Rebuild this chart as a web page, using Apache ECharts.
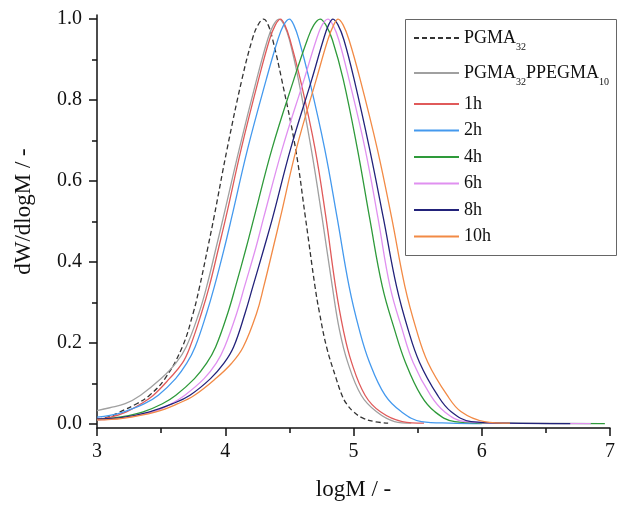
<!DOCTYPE html>
<html>
<head>
<meta charset="utf-8">
<script src="https://cdn.jsdelivr.net/npm/echarts@6/dist/echarts.min.js"></script>
<style>
  html, body { margin: 0; padding: 0; background: #fff; }
  #chart { width: 618px; height: 506px; }
</style>
</head>
<body>
<div id="chart"></div>
<script>
// [logM, dW/dlogM]
var pgma32 = [
  [3.00, 0.012], [3.10, 0.018], [3.18, 0.030], [3.31, 0.050], [3.41, 0.071], [3.53, 0.112],
  [3.665, 0.190], [3.75, 0.274], [3.80, 0.339], [3.865, 0.437], [3.912, 0.510], [4.015, 0.680],
  [4.13, 0.851], [4.21, 0.949], [4.255, 0.985], [4.30, 1.000], [4.335, 0.985], [4.37, 0.949],
  [4.44, 0.851], [4.548, 0.680], [4.625, 0.510], [4.70, 0.339], [4.735, 0.274], [4.79, 0.190],
  [4.865, 0.112], [4.91, 0.071], [4.945, 0.050], [5.00, 0.030], [5.07, 0.015], [5.16, 0.006],
  [5.27, 0.002]
];
var pgma32ppegma10 = [
  [3.00, 0.033], [3.10, 0.040], [3.22, 0.050], [3.34, 0.071], [3.50, 0.112], [3.615, 0.150],
  [3.695, 0.190], [3.795, 0.274], [3.855, 0.339], [3.93, 0.437], [3.985, 0.510], [4.11, 0.680],
  [4.245, 0.851], [4.33, 0.949], [4.375, 0.985], [4.42, 1.000], [4.46, 0.985], [4.50, 0.949],
  [4.57, 0.851], [4.67, 0.680], [4.755, 0.510], [4.835, 0.339], [4.89, 0.233], [4.955, 0.152],
  [5.06, 0.071], [5.18, 0.030], [5.32, 0.006], [5.45, 0.002]
];
var h1 = [
  [3.00, 0.012], [3.10, 0.016], [3.23, 0.030], [3.345, 0.050], [3.44, 0.071], [3.565, 0.112],
  [3.665, 0.150], [3.725, 0.190], [3.815, 0.274], [3.875, 0.339], [3.95, 0.437], [4.005, 0.510],
  [4.125, 0.680], [4.26, 0.851], [4.345, 0.949], [4.39, 0.985], [4.43, 1.000], [4.465, 0.985],
  [4.505, 0.949], [4.585, 0.851], [4.70, 0.680], [4.785, 0.510], [4.86, 0.339], [4.92, 0.233],
  [4.985, 0.152], [5.09, 0.071], [5.21, 0.030], [5.38, 0.006], [5.55, 0.002]
];
var h2 = [
  [3.00, 0.017], [3.10, 0.021], [3.21, 0.030], [3.37, 0.050], [3.478, 0.071], [3.613, 0.112],
  [3.70, 0.150], [3.765, 0.190], [3.855, 0.274], [3.915, 0.339], [3.995, 0.437], [4.05, 0.510],
  [4.175, 0.680], [4.32, 0.851], [4.41, 0.949], [4.455, 0.985], [4.50, 1.000], [4.535, 0.985],
  [4.575, 0.949], [4.655, 0.851], [4.775, 0.680], [4.872, 0.510], [4.966, 0.339], [5.045, 0.233],
  [5.125, 0.152], [5.246, 0.071], [5.374, 0.030], [5.53, 0.006], [5.75, 0.002], [6.00, 0.001]
];
var h4 = [
  [3.00, 0.010], [3.20, 0.018], [3.36, 0.030], [3.51, 0.050], [3.615, 0.071], [3.76, 0.112],
  [3.855, 0.150], [3.925, 0.190], [4.02, 0.274], [4.08, 0.339], [4.165, 0.437], [4.225, 0.510],
  [4.365, 0.680], [4.535, 0.851], [4.64, 0.949], [4.69, 0.985], [4.74, 1.000], [4.785, 0.985],
  [4.835, 0.949], [4.92, 0.851], [5.03, 0.680], [5.125, 0.510], [5.225, 0.339], [5.32, 0.233],
  [5.405, 0.152], [5.525, 0.071], [5.635, 0.030], [5.79, 0.006], [6.10, 0.002], [6.96, 0.001]
];
var h6 = [
  [3.00, 0.010], [3.20, 0.015], [3.44, 0.030], [3.58, 0.050], [3.685, 0.071], [3.835, 0.112],
  [3.93, 0.150], [3.995, 0.190], [4.09, 0.274], [4.15, 0.339], [4.24, 0.437], [4.30, 0.510],
  [4.445, 0.680], [4.615, 0.851], [4.71, 0.949], [4.755, 0.985], [4.80, 1.000], [4.84, 0.985],
  [4.885, 0.949], [4.965, 0.851], [5.09, 0.680], [5.19, 0.510], [5.285, 0.339], [5.38, 0.233],
  [5.465, 0.152], [5.60, 0.071], [5.71, 0.030], [5.866, 0.006], [6.20, 0.002], [6.85, 0.001]
];
var h8 = [
  [3.00, 0.012], [3.20, 0.016], [3.41, 0.030], [3.59, 0.050], [3.725, 0.071], [3.885, 0.112],
  [3.99, 0.150], [4.065, 0.190], [4.155, 0.274], [4.215, 0.339], [4.305, 0.437], [4.37, 0.510],
  [4.51, 0.680], [4.675, 0.851], [4.765, 0.949], [4.805, 0.985], [4.84, 1.000], [4.88, 0.985],
  [4.925, 0.949], [5.005, 0.851], [5.125, 0.680], [5.232, 0.510], [5.336, 0.339], [5.426, 0.233],
  [5.515, 0.152], [5.655, 0.071], [5.762, 0.030], [5.917, 0.006], [6.20, 0.002], [6.69, 0.001]
];
var h10 = [
  [3.00, 0.010], [3.20, 0.014], [3.46, 0.030], [3.63, 0.050], [3.76, 0.071], [3.925, 0.112],
  [4.05, 0.150], [4.14, 0.190], [4.245, 0.274], [4.30, 0.339], [4.375, 0.437], [4.43, 0.510],
  [4.555, 0.680], [4.71, 0.851], [4.80, 0.949], [4.845, 0.985], [4.88, 1.000], [4.92, 0.985],
  [4.965, 0.949], [5.052, 0.851], [5.185, 0.680], [5.297, 0.510], [5.401, 0.339], [5.49, 0.233],
  [5.58, 0.152], [5.73, 0.071], [5.84, 0.030], [6.02, 0.006], [6.22, 0.002]
];

var seriesNames = ['PGMA32', 'PGMA32PPEGMA10', '1h', '2h', '4h', '6h', '8h', '10h'];
var seriesData = [pgma32, pgma32ppegma10, h1, h2, h4, h6, h8, h10];
var colors = ['#333333', '#a0a0a0', '#e05a5a', '#4499ee', '#2e9a3a', '#e090f0', '#22227a', '#f28a45'];
var yTicks = [0, 0.2, 0.4, 0.6, 0.8, 1.0];
var yMinorTicks = [0.1, 0.3, 0.5, 0.7, 0.9];

var serif = "'Liberation Serif', 'Times New Roman', serif";

function initChart() {
  var series = [];
  for (var i = 0; i < seriesNames.length; i++) {
    series.push({
      name: seriesNames[i],
      type: 'line',
      data: seriesData[i],
      smooth: 0.4,
      symbol: 'none',
      color: colors[i],
      lineStyle: {
        color: colors[i],
        width: 1.3,
        type: i === 0 ? [5, 3] : 'solid'
      }
    });
  }

  var option = {
    animation: false,
    backgroundColor: '#fff',
    grid: {
      left: 97,
      right: 5,
      top: 15,
      bottom: 73
    },
    legend: [{
      // subscripted polymer names
      data: seriesNames.slice(0, 2),
      orient: 'vertical',
      left: 413,
      top: 24,
      padding: 0,
      itemWidth: 45,
      itemHeight: 12,
      itemGap: 7,
      selectedMode: false,
      itemStyle: {opacity: 0},
      formatter: function (name) {
        if (name === 'PGMA32') {
          return '{m|PGMA}{s|32}';
        }
        return '{m|PGMA}{s|32}{m|PPEGMA}{s|10}';
      },
      textStyle: {
        color: '#111',
        fontFamily: serif,
        fontSize: 18,
        rich: {
          m: {fontFamily: serif, fontSize: 18, lineHeight: 26, color: '#111'},
          s: {fontFamily: serif, fontSize: 10, lineHeight: 8, padding: [18, 0, 0, 0], color: '#111'}
        }
      }
    }, {
      data: seriesNames.slice(2),
      orient: 'vertical',
      left: 413,
      top: 94,
      padding: 0,
      itemWidth: 45,
      itemHeight: 12,
      itemGap: 6.5,
      selectedMode: false,
      itemStyle: {opacity: 0},
      textStyle: {
        color: '#111',
        fontFamily: serif,
        fontSize: 18,
        lineHeight: 20
      }
    }],
    graphic: [{
      type: 'rect',
      shape: {x: 405.5, y: 19.5, width: 211, height: 236},
      style: {fill: 'none', stroke: '#666', lineWidth: 1},
      silent: true
    }],
    xAxis: {
      type: 'value',
      min: 3,
      max: 7,
      interval: 1,
      name: 'logM / -',
      nameLocation: 'middle',
      nameGap: 50,
      nameTextStyle: {
        fontFamily: serif,
        fontSize: 23,
        color: '#111'
      },
      axisLine: {
        onZero: false,
        lineStyle: {color: '#111', width: 1.5}
      },
      axisTick: {
        length: 8,
        lineStyle: {color: '#111', width: 1.5}
      },
      minorTick: {
        show: true,
        splitNumber: 2,
        length: 5,
        lineStyle: {color: '#111', width: 1.5}
      },
      splitLine: {show: false},
      axisLabel: {
        margin: 14,
        fontFamily: serif,
        fontSize: 20,
        color: '#111'
      }
    },
    yAxis: [{
      type: 'value',
      min: -0.01,
      max: 1.01,
      name: 'dW/dlogM / -',
      nameLocation: 'middle',
      nameGap: 62,
      nameTextStyle: {
        fontFamily: serif,
        fontSize: 23,
        color: '#111',
        padding: [0, 0, 0, 20]
      },
      axisLine: {
        show: true,
        lineStyle: {color: '#111', width: 1.5}
      },
      axisTick: {
        show: true,
        customValues: yTicks,
        length: 8,
        lineStyle: {color: '#111', width: 1.5}
      },
      splitLine: {show: false},
      axisLabel: {
        customValues: yTicks,
        margin: 15,
        fontFamily: serif,
        fontSize: 20,
        color: '#111',
        formatter: function (v) {
          return v.toFixed(1);
        }
      }
    }, {
      // minor ticks only
      type: 'value',
      position: 'left',
      min: -0.01,
      max: 1.01,
      axisLine: {show: false},
      axisTick: {
        show: true,
        customValues: yMinorTicks,
        length: 5,
        lineStyle: {color: '#111', width: 1.5}
      },
      axisLabel: {show: false},
      splitLine: {show: false}
    }],
    series: series
  };

  var myChart = echarts.init(document.getElementById('chart'));
  myChart.setOption(option);
}

initChart();
</script>
</body>
</html>
